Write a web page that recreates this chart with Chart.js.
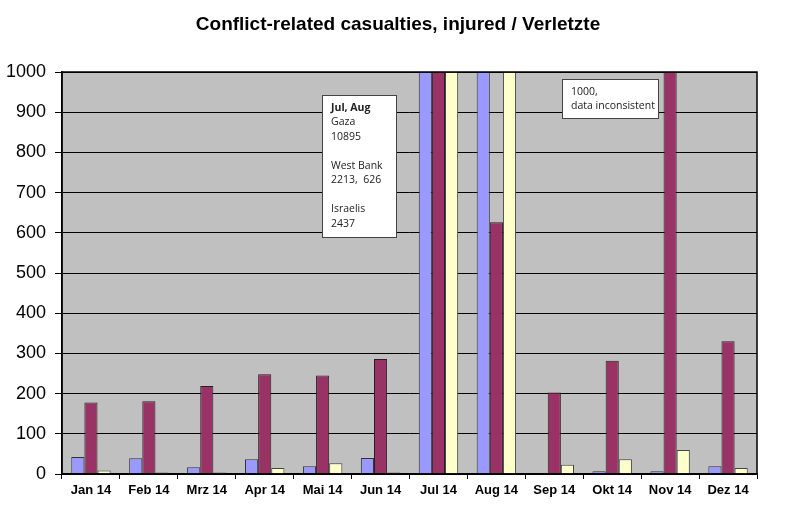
<!DOCTYPE html>
<html>
<head>
<meta charset="utf-8">
<script src="https://cdn.jsdelivr.net/npm/chart.js"></script>
<style>
  body { margin: 0; background: #fff; }
  #wrap { width: 800px; height: 517px; }
</style>
</head>
<body>
<div id="wrap"><canvas id="myChart" width="800" height="517"></canvas></div>
<script>
const months = ['Jan 14', 'Feb 14', 'Mrz 14', 'Apr 14', 'Mai 14', 'Jun 14', 'Jul 14', 'Aug 14', 'Sep 14', 'Okt 14', 'Nov 14', 'Dez 14'];
// values above 1000 are cut off at the top of the axis
const gaza = [42, 39, 17, 37, 19, 40, 1000, 1000, 2, 7, 7, 19];
const westBank = [178, 181, 219, 248, 245, 286, 1000, 626, 203, 282, 1000, 330];
const israelis = [9, 4, 4, 15, 27, 4, 1000, 1000, 23, 37, 60, 15];
const yTicks = [0, 100, 200, 300, 400, 500, 600, 700, 800, 900, 1000];

const noteJulAug = ['Jul, Aug', 'Gaza', '10895', '', 'West Bank', '2213,  626', '', 'Israelis', '2437'];
const noteNov = ['1000,', 'data inconsistent'];

const ctx = document.getElementById('myChart');

const plotBox = {
  id: 'plotBox',
  beforeDraw(chart) {
    const c = chart.ctx, a = chart.chartArea;
    c.save();
    c.fillStyle = '#ffffff';
    c.fillRect(0, 0, chart.width, chart.height);
    c.fillStyle = '#c0c0c0';
    c.fillRect(a.left, a.top, a.right - a.left, a.bottom - a.top);
    c.restore();
  },
  afterDraw(chart) {
    const c = chart.ctx, a = chart.chartArea;
    c.save();
    c.strokeStyle = '#000';
    c.lineWidth = 1.5;
    c.strokeRect(a.left, a.top, a.right - a.left, a.bottom - a.top);

    // title
    c.fillStyle = '#000';
    c.font = 'bold 19px "Liberation Sans", Arial, sans-serif';
    c.textAlign = 'center';
    c.textBaseline = 'middle';
    c.fillText('Conflict-related casualties, injured / Verletzte', 398, 25);

    // note boxes
    function note(x, y, w, h, lines) {
      c.fillStyle = '#fff';
      c.fillRect(x, y, w, h);
      c.strokeStyle = '#444';
      c.lineWidth = 1;
      c.strokeRect(x + 0.5, y + 0.5, w, h);
      c.textAlign = 'left';
      c.textBaseline = 'middle';
      c.fillStyle = '#222';
      lines.forEach((t, i) => {
        c.font = (i === 0 && lines === noteJulAug ? 'bold ' : '') + '10.5px "Open Sans", sans-serif';
        c.fillText(t, x + 9, y + 13 + i * 14.5);
      });
    }
    note(322, 95, 74, 142, noteJulAug);
    note(562, 79, 96, 39, noteNov);
    c.restore();
  }
};

new Chart(ctx, {
  type: 'bar',
  data: {
    labels: months,
    datasets: [{
      label: 'Gaza',
      data: gaza,
      backgroundColor: '#9999ff',
      borderColor: '#333',
      borderWidth: 1
    }, {
      label: 'West Bank',
      data: westBank,
      backgroundColor: '#993366',
      borderColor: '#222',
      borderWidth: 1
    }, {
      label: 'Israelis',
      data: israelis,
      backgroundColor: '#ffffcc',
      borderColor: '#444',
      borderWidth: 1
    }]
  },
  options: {
    responsive: false,
    animation: false,
    layout: { padding: { top: 72, right: 43, bottom: 10, left: 0 } },
    plugins: {
      legend: { display: false },
      title: { display: false },
      tooltip: { enabled: false }
    },
    datasets: {
      bar: { categoryPercentage: 0.68, barPercentage: 1 }
    },
    scales: {
      x: {
        grid: { drawOnChartArea: false, drawTicks: true, tickLength: 5, color: '#000', offset: true },
        border: { color: '#000', width: 1.5 },
        ticks: {
          color: '#000',
          padding: 4,
          maxRotation: 0,
          font: { family: '"Liberation Sans", Arial, sans-serif', size: 13, weight: 'bold' }
        },
        afterFit(scale) { scale.height = 33; }
      },
      y: {
        min: 0,
        max: 1000,
        afterBuildTicks(scale) { scale.ticks = yTicks.map(v => ({ value: v })); },
        grid: { color: '#000', lineWidth: 1, drawTicks: true, tickLength: 7 },
        border: { color: '#000', width: 1.5 },
        ticks: {
          color: '#000',
          padding: 9,
          font: { family: '"Liberation Sans", Arial, sans-serif', size: 18 },
          callback: v => String(v)
        },
        afterFit(scale) { scale.width = 62; }
      }
    }
  },
  plugins: [plotBox]
});
</script>
</body>
</html>
